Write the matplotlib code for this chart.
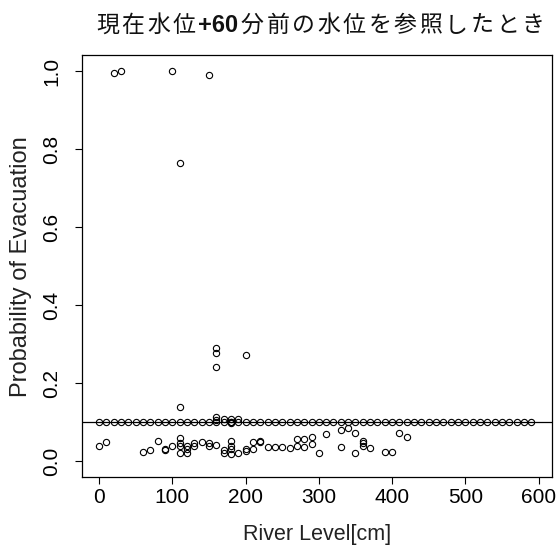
import numpy as np
import matplotlib
matplotlib.use("Agg")
import matplotlib.pyplot as plt

# points sitting on the 0.1 reference line (every 10 cm)
line_x = list(range(0, 600, 10))
line_y = [0.1] * len(line_x)

# the other observations
other_x = [20, 30, 100, 150, 110, 160, 160, 160, 200, 110,
           160, 160, 170, 180, 190, 180, 180,
           0, 10, 60, 70, 80, 90, 90, 100,
           110, 110, 110, 110, 120, 120, 120,
           130, 130, 140, 150, 150, 160,
           170, 170, 180, 180, 180, 180,
           190, 200, 200, 210, 210, 220, 220,
           230, 240, 250, 260, 270, 270, 280, 280, 290, 290,
           300, 310, 330, 330, 340, 350, 350,
           360, 360, 360, 370, 390, 400, 410, 420]
other_y = [0.995, 1.0, 1.0, 0.99, 0.765, 0.29, 0.278, 0.242, 0.273, 0.14,
           0.113, 0.105, 0.108, 0.108, 0.108, 0.102, 0.098,
           0.04, 0.05, 0.025, 0.029, 0.053, 0.032, 0.028, 0.04,
           0.061, 0.048, 0.04, 0.022, 0.039, 0.032, 0.022,
           0.04, 0.047, 0.049, 0.048, 0.039, 0.041,
           0.029, 0.022, 0.053, 0.04, 0.031, 0.02,
           0.022, 0.031, 0.027, 0.05, 0.032, 0.053, 0.05,
           0.038, 0.038, 0.038, 0.035, 0.057, 0.04, 0.057, 0.038, 0.062, 0.044,
           0.022, 0.069, 0.08, 0.038, 0.085, 0.072, 0.022,
           0.053, 0.046, 0.04, 0.034, 0.025, 0.025, 0.072, 0.063]

threshold = 0.1
x_ticks = [0, 100, 200, 300, 400, 500, 600]
y_ticks = [0.0, 0.2, 0.4, 0.6, 0.8, 1.0]

title_parts = ["現", "在", "水", "位", "+60", "分", "前", "の", "水", "位",
               "を", "参", "照", "し", "た", "と", "き"]

plt.rcParams["font.family"] = ["Liberation Sans", "DejaVu Sans"]

fig = plt.figure(figsize=(5.58, 5.51), dpi=100)
ax = fig.add_axes([82 / 558, 1 - 477 / 551, 470 / 558, 421.5 / 551])

ax.plot(line_x + other_x, line_y + other_y, linestyle="none", marker="o",
        mfc="none", mec="black", ms=4.5, mew=0.8)
ax.axhline(threshold, color="black", lw=0.9)

ax.set_xlim(-23, 618)
ax.set_ylim(-0.04, 1.04)
ax.set_xticks(x_ticks)
ax.set_yticks(y_ticks)
ax.set_yticklabels([f"{v:.1f}" for v in y_ticks])
ax.tick_params(direction="out", length=5, width=0.8, labelsize=15, color="black")
ax.tick_params(axis="x", pad=3)
ax.tick_params(axis="y", pad=10, labelrotation=90)
for lab in ax.get_yticklabels():
    lab.set_va("center")
for s in ax.spines.values():
    s.set_linewidth(0.9)

ax.set_xlabel("River Level[cm]", fontsize=15.5, labelpad=12, color="#222222")
ax.set_ylabel("Probability of Evacuation", fontsize=17, labelpad=7, color="#222222")

# title drawn piece by piece so "+60" can be bold
prev = None
for part in title_parts:
    bold = part.startswith("+")
    fam = ["Liberation Sans"] if bold else ["Noto Sans CJK JP", "DejaVu Sans"]
    kw = dict(fontsize=16.5 if not bold else 17, family=fam,
              fontweight="bold" if bold else "normal",
              va="bottom", ha="left", color="#111111")
    if prev is None:
        prev = fig.text(96 / 558, 1 - 37 / 551, part, **kw)
    else:
        prev = ax.annotate(part, xy=(1, 0), xycoords=prev, xytext=(1.9, 0),
                           textcoords="offset points", annotation_clip=False, **kw)

fig.savefig("out.png", dpi=100)
